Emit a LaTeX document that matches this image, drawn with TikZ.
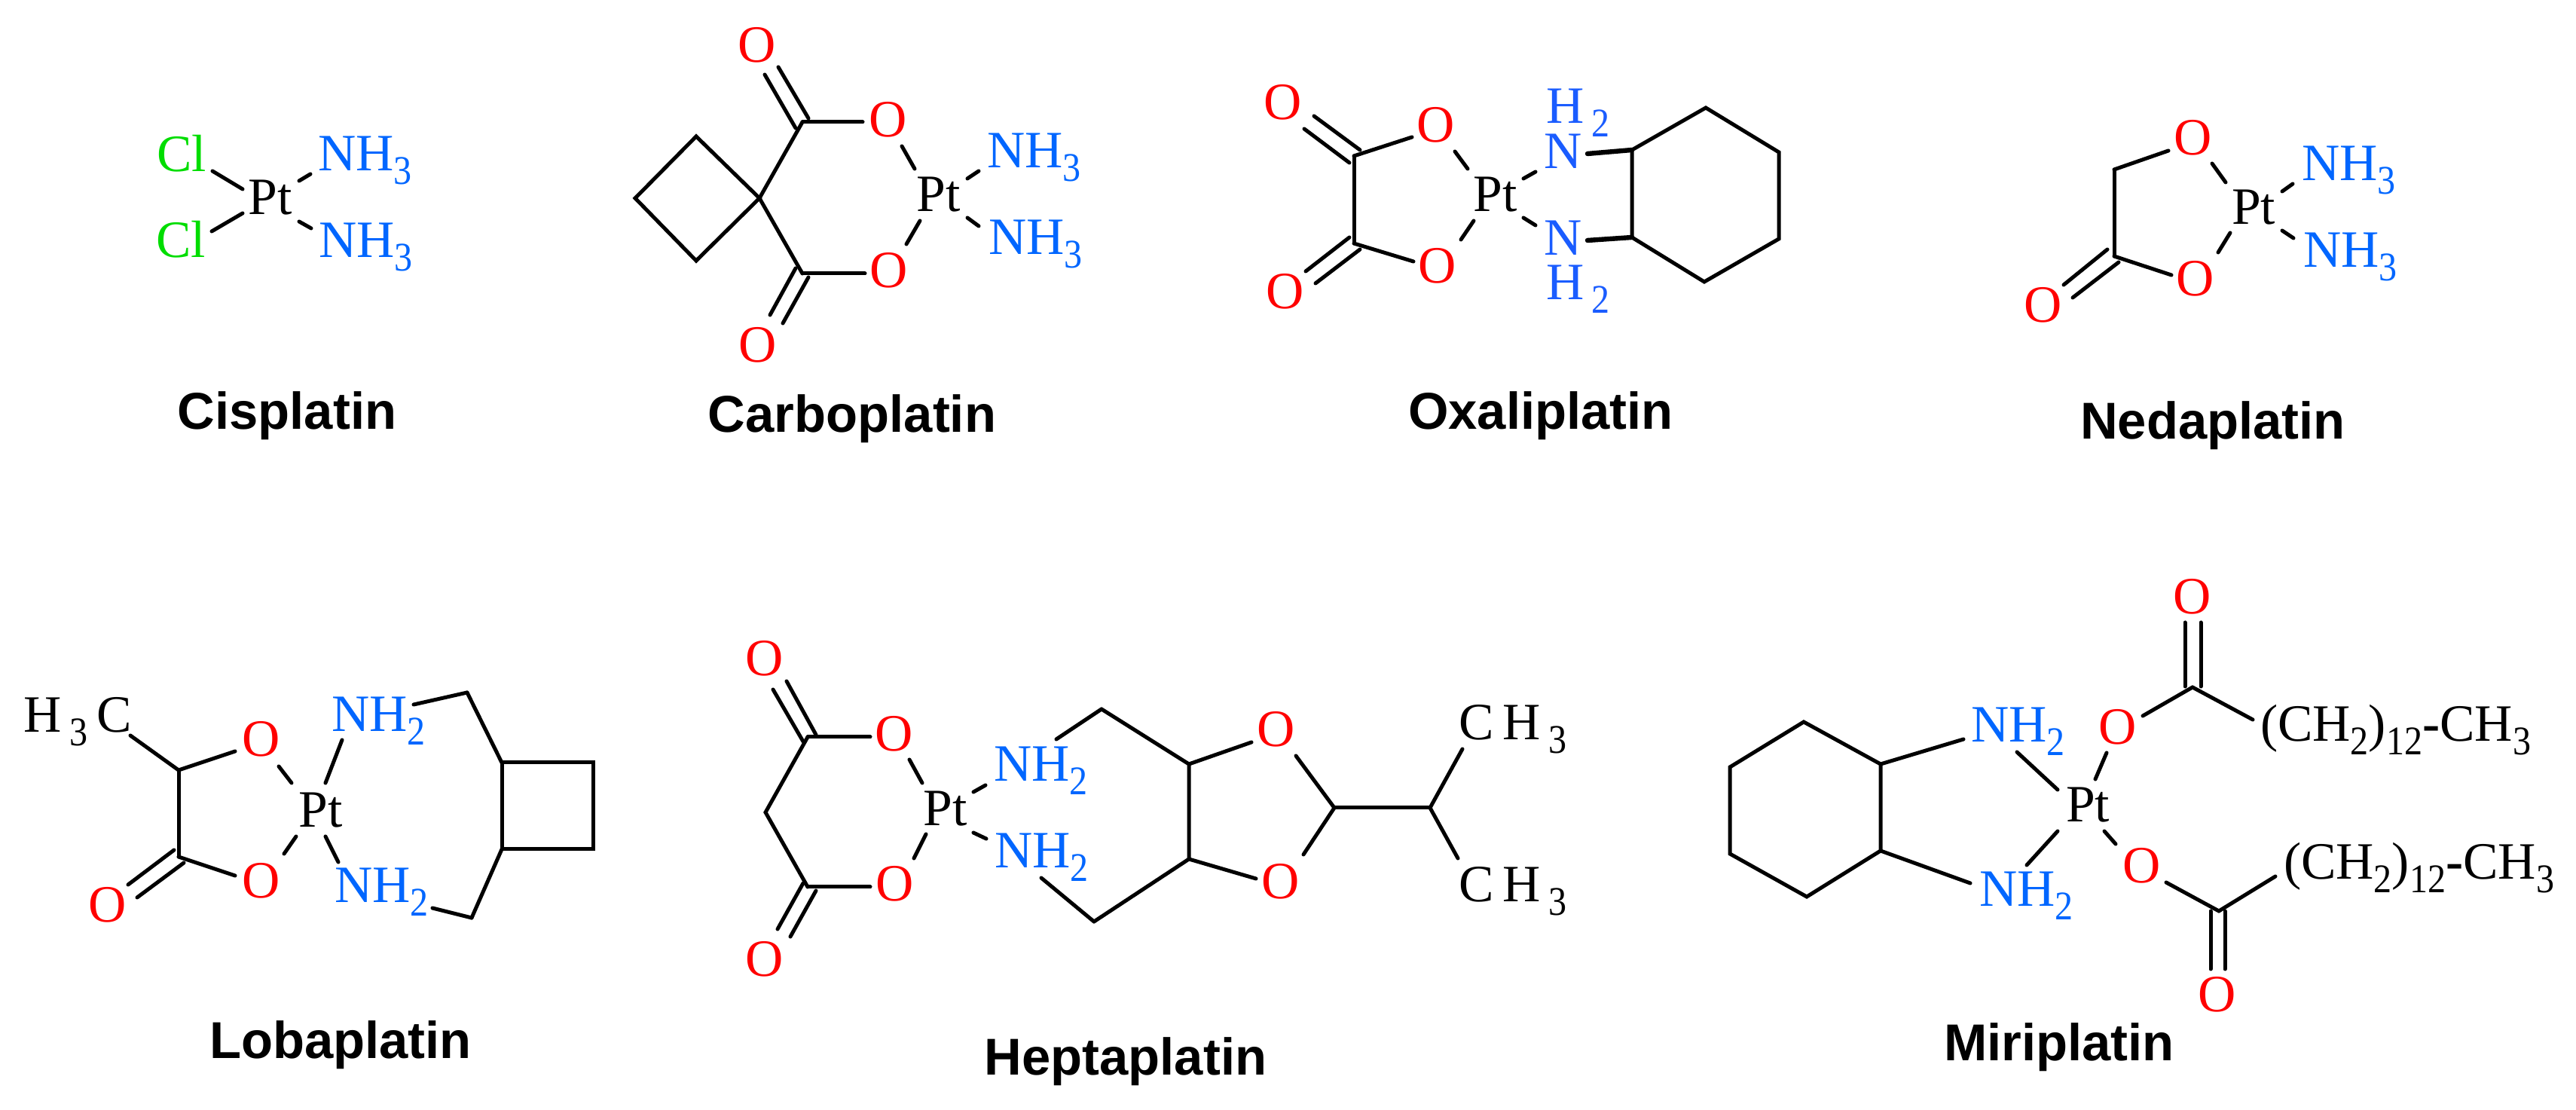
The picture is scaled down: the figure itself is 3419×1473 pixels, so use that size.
\documentclass[tikz,border=0pt]{standalone}
\usepackage{fontspec}
\setmainfont{Liberation Serif}
\newfontfamily\lblfont{Liberation Sans}
\newfontface\subfont{Liberation Serif}[FakeStretch=0.89]
\usetikzlibrary{calc}
\definecolor{oxred}{HTML}{FF0000}
\definecolor{amblue}{HTML}{0066FF}
\definecolor{amblueb}{HTML}{1A5CFF}
\definecolor{clgreen}{HTML}{00DD00}
\newcommand\sbs[1]{\raisebox{-4.4pt}{\subfont\fontsize{13.5}{13.5}\selectfont #1}}
\newcommand\bd[4]{\draw[bondl] ($(#1)+(#2)$) -- ($(#3)+(#4)$);}
\newcommand\NHt{NH\sbs{3}}
\newcommand\NHd{NH\sbs{2}}
\newcommand\CHt{C\kern3pt H\kern2.6pt\sbs{3}}
\newcommand\chain{(CH\sbs{2})\sbs{12}{\bfseries -}CH\sbs{3}}
\tikzset{
  atom/.style={inner sep=0pt,outer sep=0pt,font=\fontsize{17.4}{20}\selectfont},
  oat/.style={atom,anchor=base,text=oxred},
  pta/.style={atom,anchor=base,text=black},
  cla/.style={atom,anchor=base,text=clgreen},
  nat/.style={atom,anchor=base,text=amblueb},
  nhb/.style={atom,anchor=base west,text=amblue},
  nhc/.style={atom,anchor=base west,text=amblueb},
  blk/.style={atom,anchor=base west,text=black},
  lbl/.style={inner sep=0pt,outer sep=0pt,anchor=base,text=black,font=\lblfont\bfseries\fontsize{17.2}{20}\selectfont},
  bondl/.style={draw=black,line width=1.25pt,line join=miter,line cap=round},
  thickb/.style={draw=black,line width=1.6pt,line cap=round}
}
\begin{document}
\begin{tikzpicture}[x=0.25pt,y=-0.25pt]
\useasboundingbox (0,0) rectangle (3419,1473);
% ---------- Cisplatin
\node[pta] (a1) at (359,285) {Pt};
\node[cla] (a2) at (241,228) {Cl};
\node[cla] (a3) at (240,342) {Cl};
\node[nhb] (a4) at (422,227) {\NHt};
\node[nhb] (a5) at (423,342) {\NHt};
\node[lbl] (a6) at (381,570) {Cisplatin};
\bd{a2.base}{41,-1}{a1.base}{-37,-34}
\bd{a3.base}{41,-35}{a1.base}{-37,-2}
\bd{a1.base}{38,-45}{a4.base west}{-10,4}
\bd{a1.base}{38,9}{a5.base west}{-10,-39}
% ---------- Carboplatin
\coordinate (b1) at (924,181);
\coordinate (b2) at (843,263);
\coordinate (b3) at (924,346);
\coordinate (b4) at (1008,263);
\coordinate (b5) at (1065,162);
\coordinate (b6) at (1065,363);
\node[oat] (b7) at (1005,83) {O};
\node[oat] (b8) at (1179,182) {O};
\node[oat] (b9) at (1180,382) {O};
\node[oat] (b10) at (1006,481) {O};
\node[pta] (b11) at (1246,281) {Pt};
\node[nhb] (b12) at (1310,223) {\NHt};
\node[nhb] (b13) at (1312,338) {\NHt};
\node[lbl] (b14) at (1131,574) {Carboplatin};
\draw[bondl] (b1) -- (b2) -- (b3) -- (b4) -- cycle;
\draw[bondl] (b5) -- (b4) -- (b6);
\bd{b5}{-9,8}{b7.base}{10,16}
\bd{b5}{8,-5}{b7.base}{28,6}
\bd{b5}{0,0}{b8.base}{-34,-20}
\bd{b6}{-9,-7}{b10.base}{16,-63}
\bd{b6}{8,5}{b10.base}{33,-52}
\bd{b6}{0,0}{b9.base}{-32,-19}
\bd{b8.base}{18,12}{b11.base}{-32,-57}
\bd{b11.base}{-25,12}{b9.base}{23,-58}
\bd{b11.base}{38,-44}{b12.base west}{-11,4}
\bd{b11.base}{38,8}{b13.base west}{-13,-38}
% ---------- Oxaliplatin
\coordinate (c1) at (1797,207);
\coordinate (c2) at (1797,323);
\coordinate (c3) at (2166,199);
\coordinate (c4) at (2264,143);
\coordinate (c5) at (2361,202);
\coordinate (c6) at (2361,317);
\coordinate (c7) at (2262,374);
\coordinate (c8) at (2166,315);
\node[oat] (c9) at (1703,159) {O};
\node[oat] (c10) at (1906,189) {O};
\node[oat] (c11) at (1908,376) {O};
\node[oat] (c12) at (1706,410) {O};
\node[pta] (c13) at (1985,281) {Pt};
\node[nhc] (c14) at (2052,164) {H\kern2.6pt\smash{\sbs{2}}};
\node[nat] (c15) at (2075,224) {N};
\node[nat] (c16) at (2075,339) {N};
\node[nhc] (c17) at (2052,398) {H\kern2.6pt\smash{\sbs{2}}};
\node[lbl] (c18) at (2045,570) {Oxaliplatin};
\draw[bondl] (c3) -- (c4) -- (c5) -- (c6) -- (c7) -- (c8) -- cycle;
\draw[bondl] (c1) -- (c2);
\draw[thickb] ($(c15.base)+(32,-20)$) -- (c3);
\draw[thickb] ($(c16.base)+(32,-20)$) -- (c8);
\bd{c1}{-6,9}{c9.base}{28,12}
\bd{c1}{8,-8}{c9.base}{41,-5}
\bd{c2}{-6,-8}{c12.base}{27,-50}
\bd{c2}{8,8}{c12.base}{40,-34}
\bd{c1}{0,0}{c10.base}{-32,-7}
\bd{c2}{0,0}{c11.base}{-32,-29}
\bd{c10.base}{25,12}{c13.base}{-37,-57}
\bd{c13.base}{-29,12}{c11.base}{31,-58}
\bd{c13.base}{37,-44}{c15.base}{-37,4}
\bd{c13.base}{37,8}{c16.base}{-37,-40}
% ---------- Nedaplatin
\coordinate (d1) at (2806,225);
\coordinate (d2) at (2806,340);
\node[oat] (d3) at (2911,206) {O};
\node[oat] (d4) at (2914,393) {O};
\node[oat] (d5) at (2712,428) {O};
\node[pta] (d6) at (2991,298) {Pt};
\node[nhb] (d7) at (3055,240) {\NHt};
\node[nhb] (d8) at (3057,355) {\NHt};
\node[lbl] (d9) at (2937,583) {Nedaplatin};
\draw[bondl] (d1) -- (d2);
\bd{d1}{0,0}{d3.base}{-33,-6}
\bd{d2}{0,0}{d4.base}{-32,-28}
\bd{d2}{-9,-9}{d5.base}{27,-50}
\bd{d2}{6,8}{d5.base}{39,-33}
\bd{d3.base}{25,11}{d6.base}{-37,-56}
\bd{d6.base}{-31,11}{d4.base}{30,-58}
\bd{d6.base}{38,-44}{d7.base west}{-12,4}
\bd{d6.base}{38,8}{d8.base west}{-13,-39}
% ---------- Lobaplatin
\coordinate (e1) at (237,1022);
\coordinate (e2) at (237,1137);
\coordinate (e3) at (620,919);
\coordinate (e4) at (626,1218);
\coordinate (e5) at (666,1012);
\coordinate (e6) at (787,1012);
\coordinate (e7) at (787,1127);
\coordinate (e8) at (666,1127);
\node[blk] (e9) at (32,972) {H\kern2.6pt\sbs{3}\kern3pt C};
\node[oat] (e10) at (347,1004) {O};
\node[oat] (e11) at (347,1192) {O};
\node[oat] (e12) at (143,1224) {O};
\node[pta] (e13) at (426,1098) {Pt};
\node[nhb] (e14) at (440,971) {\NHd};
\node[nhb] (e15) at (444,1198) {\NHd};
\node[lbl] (e16) at (452,1405) {Lobaplatin};
\draw[bondl] (e5) -- (e6) -- (e7) -- (e8) -- cycle;
\draw[bondl] (e1) -- (e2);
\draw[bondl] (e3) -- (e5);
\draw[bondl] (e4) -- (e8);
\bd{e9.base west}{141,4}{e1}{0,0}
\bd{e1}{0,0}{e10.base}{-35,-7}
\bd{e2}{0,0}{e11.base}{-35,-30}
\bd{e2}{-6,-9}{e12.base}{27,-50}
\bd{e2}{7,8}{e12.base}{39,-33}
\bd{e10.base}{23,13}{e13.base}{-39,-59}
\bd{e13.base}{-33,12}{e11.base}{30,-59}
\bd{e13.base}{6,-59}{e14.base west}{14,11}
\bd{e13.base}{6,12}{e15.base west}{5,-54}
\bd{e14.base west}{109,-36}{e3}{0,0}
\bd{e15.base west}{130,7}{e4}{0,0}
% ---------- Heptaplatin
\coordinate (f1) at (1072,978);
\coordinate (f2) at (1016,1078);
\coordinate (f3) at (1072,1177);
\coordinate (f4) at (1462,941);
\coordinate (f5) at (1452,1223);
\coordinate (f6) at (1578,1014);
\coordinate (f7) at (1578,1140);
\coordinate (f8) at (1771,1072);
\coordinate (f9) at (1898,1072);
\node[oat] (f10) at (1015,897) {O};
\node[oat] (f11) at (1187,997) {O};
\node[oat] (f12) at (1188,1196) {O};
\node[oat] (f13) at (1015,1296) {O};
\node[pta] (f14) at (1255,1096) {Pt};
\node[nhb] (f15) at (1319,1037) {\NHd};
\node[nhb] (f16) at (1320,1152) {\NHd};
\node[oat] (f17) at (1694,991) {O};
\node[oat] (f18) at (1700,1193) {O};
\node[blk] (f19) at (1936,982) {\CHt};
\node[blk] (f20) at (1936,1197) {\CHt};
\node[lbl] (f21) at (1494,1427) {Heptaplatin};
\draw[bondl] (f1) -- (f2) -- (f3);
\draw[bondl] (f4) -- (f6) -- (f7) -- (f5);
\draw[bondl] (f8) -- (f9);
\bd{f1}{-6,6}{f10.base}{11,18}
\bd{f1}{11,-3}{f10.base}{29,7}
\bd{f1}{0,0}{f11.base}{-32,-19}
\bd{f3}{-6,-5}{f13.base}{17,-63}
\bd{f3}{11,5}{f13.base}{34,-53}
\bd{f3}{0,0}{f12.base}{-33,-19}
\bd{f11.base}{20,11}{f14.base}{-31,-57}
\bd{f14.base}{-26,11}{f12.base}{25,-57}
\bd{f14.base}{37,-45}{f15.base west}{-11,5}
\bd{f14.base}{37,9}{f16.base west}{-11,-39}
\bd{f15.base west}{83,-56}{f4}{0,0}
\bd{f16.base west}{62,13}{f5}{0,0}
\bd{f6}{0,0}{f17.base}{-33,-6}
\bd{f7}{0,0}{f18.base}{-33,-27}
\bd{f17.base}{26,12}{f8}{0,0}
\bd{f18.base}{30,-59}{f8}{0,0}
\bd{f9}{0,0}{f19.base west}{5,12}
\bd{f9}{0,0}{f20.base west}{-1,-58}
% ---------- Miriplatin
\coordinate (g1) at (2394,958);
\coordinate (g2) at (2496,1014);
\coordinate (g3) at (2496,1129);
\coordinate (g4) at (2398,1190);
\coordinate (g5) at (2296,1133);
\coordinate (g6) at (2296,1018);
\coordinate (g7) at (2910,912);
\coordinate (g8) at (2945,1209);
\node[oat] (g9) at (2910,815) {O};
\node[oat] (g10) at (2811,988) {O};
\node[oat] (g11) at (2843,1172) {O};
\node[oat] (g12) at (2943,1343) {O};
\node[pta] (g13) at (2771,1091) {Pt};
\node[nhb] (g14) at (2616,985) {\NHd};
\node[nhb] (g15) at (2627,1203) {\NHd};
\node[blk] (g16) at (3000,984) {\chain};
\node[blk] (g17) at (3031,1167) {\chain};
\node[lbl] (g18) at (2733,1408) {Miriplatin};
\draw[bondl] (g1) -- (g2) -- (g3) -- (g4) -- (g5) -- (g6) -- cycle;
\bd{g2}{0,0}{g14.base west}{-10,-4}
\bd{g3}{0,0}{g15.base west}{-12,-31}
\bd{g14.base west}{61,13}{g13.base}{-40,-43}
\bd{g13.base}{-40,12}{g15.base west}{63,-55}
\bd{g13.base}{10,-57}{g10.base}{-15,11}
\bd{g13.base}{22,12}{g11.base}{-35,-52}
\bd{g10.base}{33,-38}{g7}{0,0}
\bd{g7}{0,0}{g16.base west}{-10,-29}
\bd{g7}{-10,-1}{g9.base}{-10,11}
\bd{g7}{11,-1}{g9.base}{11,11}
\bd{g11.base}{32,-1}{g8}{0,0}
\bd{g8}{0,0}{g17.base west}{-11,-4}
\bd{g8}{-11,0}{g12.base}{-9,-57}
\bd{g8}{8,0}{g12.base}{10,-57}
\end{tikzpicture}
\end{document}
